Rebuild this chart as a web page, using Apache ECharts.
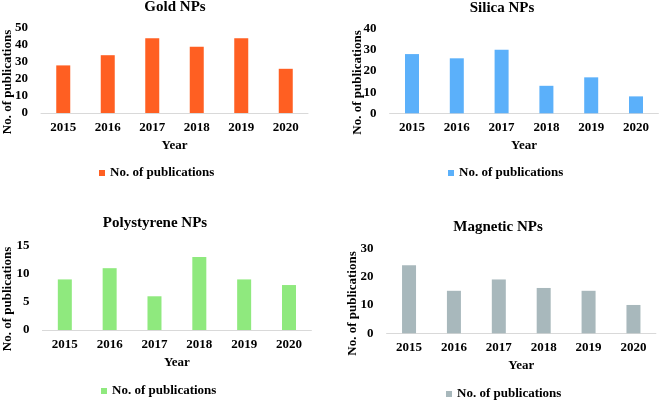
<!DOCTYPE html>
<html>
<head>
<meta charset="utf-8">
<script src="https://cdn.jsdelivr.net/npm/echarts@6/dist/echarts.min.js"></script>
<style>html,body{margin:0;padding:0;background:#fff;}#c{width:661px;height:404px;}</style>
</head>
<body>
<div id="c"></div>
<script>
const years = ['2015', '2016', '2017', '2018', '2019', '2020'];
const goldValues = [28, 34, 44, 39, 44, 26];
const silicaValues = [28, 26, 30, 13, 17, 8];
const polystyreneValues = [9, 11, 6, 13, 9, 8];
const magneticValues = [24, 15, 19, 16, 15, 10];
const panelTitles = ['Gold NPs', 'Silica NPs', 'Polystyrene NPs', 'Magnetic NPs'];
const seriesName = 'No. of publications';
const xName = 'Year';
const yName = 'No. of publications';

const panels = [
  {values: goldValues, color: '#FF5F22', max: 50, interval: 10,
   grid: {left: 41, top: 28, width: 267, height: 85}, titleX: 175, titleY: 0, legendLeft: 99, legendTop: 166.5, yNameX: 8, yNameY: 82},
  {values: silicaValues, color: '#5BB0FA', max: 40, interval: 10,
   grid: {left: 389.6, top: 28.7, width: 268.8, height: 84.6}, titleX: 502, titleY: 0.5, legendLeft: 448, legendTop: 166.5, yNameX: 358, yNameY: 82.5},
  {values: polystyreneValues, color: '#8FE97E', max: 15, interval: 5,
   grid: {left: 42.4, top: 245.7, width: 269, height: 84.3}, titleX: 155, titleY: 216, legendLeft: 101, legendTop: 384.5, yNameX: 8, yNameY: 299},
  {values: magneticValues, color: '#A8B8BC', max: 30, interval: 10,
   grid: {left: 386.6, top: 248.3, width: 269.3, height: 85}, titleX: 498, titleY: 219.5, legendLeft: 446, legendTop: 387.5, yNameX: 352.5, yNameY: 303.5}
];

const font = '"Liberation Serif", "Times New Roman", serif';
const txt = {fontFamily: font, fontWeight: 'bold', color: '#000', fontSize: 13};

const option = {
  animation: false,
  backgroundColor: '#fff',
  title: panels.map((p, i) => ({
    text: panelTitles[i], left: p.titleX, top: p.titleY, padding: 0,
    textAlign: 'center',
    textStyle: {fontFamily: font, fontWeight: 'bold', color: '#000', fontSize: 15}
  })),
  legend: panels.map((p, i) => ({
    left: p.legendLeft, top: p.legendTop, padding: 0, icon: 'rect',
    itemWidth: 6, itemHeight: 6, itemGap: 10,
    data: [{name: seriesName, itemStyle: {color: p.color}}],
    selectedMode: false,
    textStyle: txt
  })),
  grid: panels.map(p => Object.assign({containLabel: false}, p.grid)),
  xAxis: panels.map((p, i) => ({
    type: 'category', gridIndex: i, data: years,
    name: xName, nameLocation: 'middle', nameGap: 26, nameTextStyle: txt,
    axisLine: {lineStyle: {color: '#D9D9D9', width: 1}},
    axisTick: {show: false},
    axisLabel: Object.assign({margin: 8}, txt)
  })),
  yAxis: panels.map((p, i) => ({
    type: 'value', gridIndex: i, min: 0, max: p.max, interval: p.interval,
    axisLine: {show: false}, axisTick: {show: false}, splitLine: {show: false},
    axisLabel: Object.assign({margin: 13}, txt)
  })),
  graphic: panels.map(p => ({
    type: 'text', x: p.yNameX, y: p.yNameY, rotation: Math.PI / 2,
    style: {text: yName, font: 'bold 13px ' + font, fill: '#000', align: 'center', verticalAlign: 'middle'}
  })),
  series: panels.map((p, i) => ({
    type: 'bar', name: seriesName, xAxisIndex: i, yAxisIndex: i,
    data: p.values, barWidth: 14,
    itemStyle: {color: p.color}
  }))
};

const chart = echarts.init(document.getElementById('c'), null, {renderer: 'canvas'});
chart.setOption(option);
</script>
</body>
</html>
